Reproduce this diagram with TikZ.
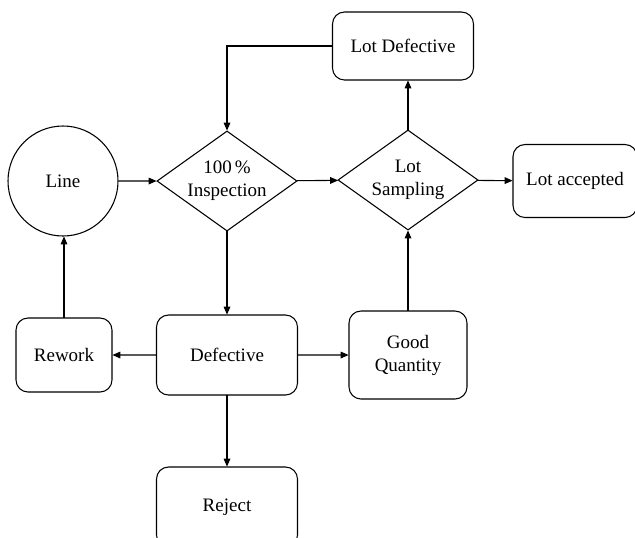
\documentclass[tikz,border=0pt]{standalone}
\usepackage{fontspec}
\setmainfont{Liberation Serif}
\usepackage{tikz}
\usetikzlibrary{arrows.meta, shapes.geometric, positioning}

\begin{document}
\begin{tikzpicture}[
  x=1pt, y=-1pt,
  every node/.style = {font=\fontsize{19}{23}\selectfont, align=center},
  stepbox/.style  = {rectangle, rounded corners=9pt, draw=black,
                     line width=0.8pt, fill=white,
                     minimum width=#1, inner sep=2pt},
  stepbox/.default = 141pt,
  decision/.style = {diamond, aspect=1.4, draw=black, line width=0.8pt,
                     fill=white, minimum width=140pt, minimum height=100pt,
                     inner sep=0pt},
  source/.style   = {circle, draw=black, line width=0.8pt, fill=white,
                     minimum size=110pt},
  arr/.style      = {-{Triangle[length=6pt, width=5pt]}, line width=0.8pt},
  scale=0.75, transform shape,
]
\useasboundingbox (0,0) rectangle (635,537);

%% ══ ROW 1: main flow ═════════════════════════════════════════════════════
\node[source] at (63, 181) (line) {Line};

\node[decision] at (227, 181) (insp) {100\,\%\\Inspection};

\node[decision] at (408, 180) (samp) {Lot\\Sampling};

\node[stepbox=124pt, minimum height=73pt] at (575, 181) (accept) {Lot accepted};

\node[stepbox, minimum height=68pt] at (403, 46) (lotdef) {Lot Defective};

\draw[arr] (line)  -- (insp);
\draw[arr] (insp)  -- (samp);
\draw[arr] (samp)  -- (accept);
\draw[arr] (samp.north) -- (samp.north |- lotdef.south);

%% ── Feedback: lot defective back to inspection ───────────────────────────
\draw[arr] (lotdef.west) -| (insp.north);

%% ══ ROW 2: sorting after inspection ═════════════════════════════════════
\node[stepbox, minimum height=80pt] at (227, 355) (defect) {Defective};

\node[stepbox=96pt, minimum height=74pt] at (64, 355) (rework) {Rework};

\node[stepbox=118pt, minimum height=88pt] at (408, 355) (good) {Good\\Quantity};

\node[stepbox, minimum height=80pt] at (227, 507) (reject) {Reject};

\draw[arr] (insp.south)   -- (defect.north);
\draw[arr] (defect)       -- (rework);
\draw[arr] (defect)       -- (good);
\draw[arr] (defect.south) -- (reject.north);

%% ── Vertical connectors back up ──────────────────────────────────────────
\draw[arr] (rework.north) -- (line.south -| rework.north);
\draw[arr] (good.north)   -- (samp.south);

\end{tikzpicture}
\end{document}
